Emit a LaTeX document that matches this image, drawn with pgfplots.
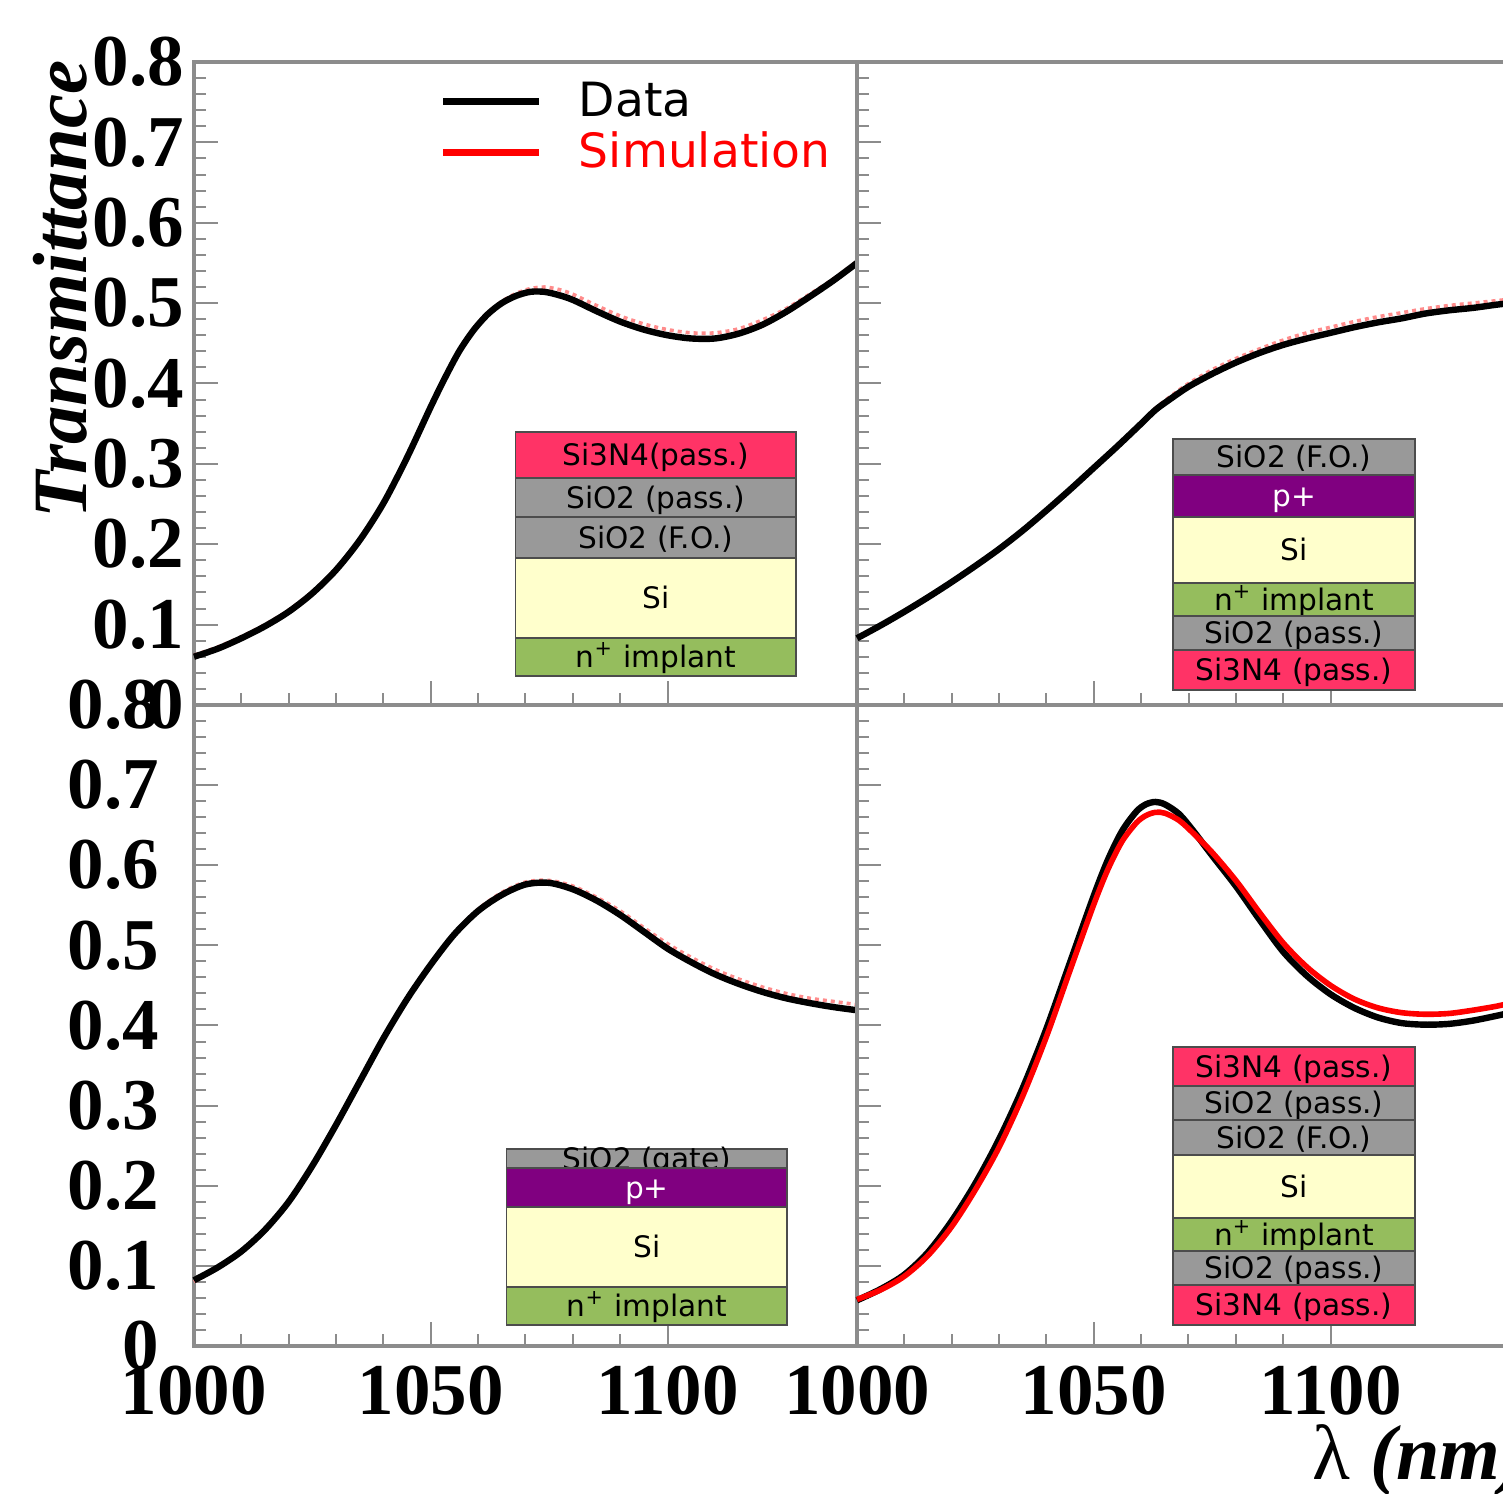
\documentclass[border=0pt]{standalone}
\usepackage{pgfplots}
\pgfplotsset{compat=1.18}
\usepackage{fontspec}
\newfontfamily\timesfam{Liberation Serif}
\newfontfamily\dejavu{DejaVu Sans}
\definecolor{pinkred}{HTML}{FF3366}
\definecolor{oxgray}{HTML}{999999}
\definecolor{siyellow}{HTML}{FFFFCC}
\definecolor{impgreen}{HTML}{95BD5D}
\definecolor{ppurple}{HTML}{800080}
\definecolor{axgray}{HTML}{8C8C8C}
\newcommand{\boxfont}{\dejavu\fontsize{7.4}{8.5}\selectfont}
% layer: ybottom, ytop, ycenter, fill, text, textcolor ; uses \bxa \bxb \bxc
\newcommand{\layer}[6]{%
  \draw[draw=black!70, line width=0.45pt, fill=#4] (axis cs:\bxa,#1) rectangle (axis cs:\bxb,#2);
  \node[anchor=base, inner sep=0pt, text=#6, font=\boxfont, yshift=-2.7pt] at (axis cs:\bxc,#3) {#5};}
\pgfplotsset{panel/.style={
  scale only axis, xmin=1000, ymin=0, ymax=0.8,
  xtick={1000,1050,1100}, ytick={0,0.1,0.2,0.3,0.4,0.5,0.6,0.7,0.8},
  minor x tick num=4, minor y tick num=4,
  tick align=inside, tick pos=left,
  major tick length=6pt, minor tick length=3pt,
  tick style={axgray, line width=0.5pt},
  axis line style={axgray, line width=0.8pt},
  /pgf/number format/assume math mode=true,
  /pgf/number format/1000 sep={},
  ticklabel style={font=\timesfam\bfseries\fontsize{18.25}{20}\selectfont},
  xticklabel style={anchor=north, inner sep=0pt, yshift=-4.75pt},
  yticklabel style={anchor=east, inner sep=0pt},
  yticklabel={\pgfmathprintnumber[fixed,precision=1]{\tick}},
  clip=false,
}}
\begin{document}
\begin{tikzpicture}
\useasboundingbox (0,0) rectangle (375.75pt,373.5pt);
% ---------------- top left
\begin{axis}[panel, at={(48.5pt,197.25pt)}, anchor=south west,
  width=165.75pt, height=160.75pt, xmax=1140,
  xticklabels={}, yticklabel style={xshift=-2.25pt},
  legend style={draw=none, fill=none, at={(0.371,0.970)}, anchor=north west,
    inner sep=0pt, outer sep=0pt, row sep=4.05pt, column sep=9pt,
    font=\dejavu\fontsize{11.8}{13}\selectfont,
    nodes={inner sep=0pt, text height=8.7pt, text depth=0pt}},
  legend cell align=left,
  legend image code/.code={\draw[#1, line width=1.75pt] (0pt,-0.75pt) -- (24pt,-0.75pt);}]
\addplot[red!45, line width=0.9pt, dash pattern=on 1pt off 1pt, smooth, forget plot] coordinates {
(1000,0.062)(1005,0.072)(1010,0.085)(1015,0.100)(1020,0.118)(1025,0.141)(1030,0.170)
(1035,0.207)(1040,0.253)(1045,0.310)(1050,0.373)(1053,0.409)(1056,0.442)(1059,0.468)
(1062,0.488)(1065,0.502)(1068,0.512)(1071,0.518)(1074,0.520)(1077,0.517)(1080,0.511)
(1085,0.497)(1090,0.484)(1095,0.474)(1100,0.467)(1105,0.463)(1110,0.463)(1115,0.468)
(1120,0.479)(1125,0.493)(1130,0.511)(1135,0.530)(1140,0.552)};
\addplot[black, line width=1.6pt, smooth, forget plot] coordinates {
(1000,0.060)(1005,0.070)(1010,0.083)(1015,0.098)(1020,0.116)(1025,0.139)(1030,0.168)
(1035,0.205)(1040,0.251)(1045,0.308)(1050,0.371)(1053,0.407)(1056,0.440)(1059,0.466)
(1062,0.486)(1065,0.500)(1068,0.509)(1071,0.514)(1074,0.514)(1077,0.510)(1080,0.504)
(1085,0.490)(1090,0.477)(1095,0.467)(1100,0.460)(1105,0.456)(1110,0.456)(1115,0.462)
(1120,0.473)(1125,0.489)(1130,0.508)(1135,0.528)(1140,0.550)};
\addlegendimage{black}
\addlegendentry{Data}
\addlegendimage{red}
\addlegendentry{\textcolor{red}{Simulation}}
\def\bxa{1067.9}\def\bxb{1127.2}\def\bxc{1097.55}
\layer{0.2823}{0.3396}{0.311}{pinkred}{Si3N4(pass.)}{black}
\layer{0.2338}{0.2823}{0.258}{oxgray}{SiO2 (pass.)}{black}
\layer{0.1828}{0.2338}{0.2083}{oxgray}{SiO2 (F.O.)}{black}
\layer{0.0833}{0.1828}{0.133}{siyellow}{Si}{black}
\layer{0.0361}{0.0833}{0.0597}{impgreen}{n\textsuperscript{+} implant}{black}
\end{axis}
% ---------------- top right
\begin{axis}[panel, at={(214.25pt,197.25pt)}, anchor=south west,
  width=163.5pt, height=160.75pt, xmax=1138.1,
  xticklabels={}, yticklabels={}]
\addplot[red!45, line width=0.9pt, dash pattern=on 1pt off 1pt, smooth] coordinates {
(1000,0.084)(1005,0.100)(1010,0.117)(1015,0.135)(1020,0.154)(1025,0.174)(1030,0.195)
(1035,0.218)(1040,0.243)(1045,0.269)(1050,0.296)(1055,0.323)(1060,0.351)(1063,0.369)
(1066,0.383)(1070,0.400)(1075,0.417)(1080,0.431)(1085,0.443)(1090,0.454)(1095,0.463)
(1100,0.470)(1105,0.477)(1110,0.483)(1115,0.488)(1120,0.493)(1125,0.497)(1130,0.500)
(1135,0.503)(1138,0.505)};
\addplot[black, line width=1.6pt, smooth] coordinates {
(1000,0.083)(1005,0.099)(1010,0.116)(1015,0.134)(1020,0.153)(1025,0.173)(1030,0.194)
(1035,0.217)(1040,0.242)(1045,0.268)(1050,0.295)(1055,0.322)(1060,0.350)(1063,0.367)
(1066,0.380)(1070,0.396)(1075,0.412)(1080,0.426)(1085,0.438)(1090,0.448)(1095,0.456)
(1100,0.463)(1105,0.470)(1110,0.476)(1115,0.481)(1120,0.487)(1125,0.491)(1130,0.494)
(1135,0.498)(1138,0.500)};
\def\bxa{1066.8}\def\bxb{1117.8}\def\bxc{1092.3}
\layer{0.2861}{0.3308}{0.3085}{oxgray}{SiO2 (F.O.)}{black}
\layer{0.2338}{0.2861}{0.26}{ppurple}{p+}{white}
\layer{0.1517}{0.2338}{0.1928}{siyellow}{Si}{black}
\layer{0.1107}{0.1517}{0.1312}{impgreen}{n\textsuperscript{+} implant}{black}
\layer{0.0684}{0.1107}{0.0896}{oxgray}{SiO2 (pass.)}{black}
\layer{0.0187}{0.0684}{0.0436}{pinkred}{Si3N4 (pass.)}{black}
\end{axis}
% ---------------- bottom left
\begin{axis}[panel, at={(48.5pt,37pt)}, anchor=south west,
  width=165.75pt, height=160.25pt, xmax=1140,
  yticklabel style={xshift=-8.5pt}]
\addplot[red!45, line width=0.9pt, dash pattern=on 1pt off 1pt, smooth] coordinates {
(1000,0.080)(1005,0.097)(1010,0.117)(1015,0.144)(1020,0.179)(1025,0.224)(1030,0.275)
(1035,0.330)(1040,0.384)(1045,0.434)(1050,0.477)(1055,0.515)(1060,0.545)(1065,0.566)
(1070,0.579)(1075,0.581)(1080,0.574)(1085,0.560)(1090,0.543)(1095,0.522)(1100,0.502)
(1105,0.485)(1110,0.470)(1115,0.458)(1120,0.448)(1125,0.440)(1130,0.434)(1135,0.430)(1140,0.426)};
\addplot[black, line width=1.6pt, smooth] coordinates {
(1000,0.082)(1005,0.098)(1010,0.118)(1015,0.145)(1020,0.180)(1025,0.225)(1030,0.276)
(1035,0.330)(1040,0.384)(1045,0.433)(1050,0.476)(1055,0.514)(1060,0.543)(1065,0.563)
(1070,0.576)(1075,0.578)(1080,0.570)(1085,0.556)(1090,0.538)(1095,0.517)(1100,0.496)
(1105,0.479)(1110,0.464)(1115,0.452)(1120,0.442)(1125,0.434)(1130,0.428)(1135,0.423)(1140,0.419)};
\def\bxa{1066.0}\def\bxb{1125.3}\def\bxc{1095.65}
\layer{0.2222}{0.2459}{0.234}{oxgray}{SiO2 (gate)}{black}
\layer{0.1735}{0.2222}{0.198}{ppurple}{p+}{white}
\layer{0.0737}{0.1735}{0.1236}{siyellow}{Si}{black}
\layer{0.0262}{0.0737}{0.05}{impgreen}{n\textsuperscript{+} implant}{black}
\end{axis}
% ---------------- bottom right
\begin{axis}[panel, at={(214.25pt,37pt)}, anchor=south west,
  width=163.5pt, height=160.25pt, xmax=1138.1,
  yticklabels={}]
\addplot[black, line width=1.6pt, smooth] coordinates {
(1000,0.057)(1005,0.071)(1010,0.089)(1015,0.117)(1020,0.156)(1025,0.203)(1030,0.258)
(1035,0.322)(1040,0.396)(1045,0.479)(1050,0.562)(1053,0.607)(1056,0.643)(1059,0.667)
(1061,0.676)(1063,0.679)(1065,0.676)(1068,0.664)(1071,0.643)(1075,0.612)(1080,0.574)
(1085,0.532)(1090,0.492)(1095,0.462)(1100,0.439)(1105,0.422)(1110,0.410)(1115,0.403)
(1120,0.401)(1125,0.402)(1130,0.406)(1135,0.412)(1138,0.416)};
\addplot[red, line width=1.4pt, smooth] coordinates {
(1000,0.058)(1005,0.070)(1010,0.087)(1015,0.113)(1020,0.149)(1025,0.195)(1030,0.248)
(1035,0.312)(1040,0.386)(1045,0.469)(1050,0.551)(1053,0.595)(1056,0.630)(1059,0.653)
(1061,0.662)(1063,0.666)(1065,0.665)(1068,0.656)(1071,0.640)(1075,0.616)(1080,0.581)
(1085,0.541)(1090,0.503)(1095,0.473)(1100,0.450)(1105,0.433)(1110,0.422)(1115,0.416)
(1120,0.414)(1125,0.415)(1130,0.419)(1135,0.424)(1138,0.428)};
\def\bxa{1066.8}\def\bxb{1117.8}\def\bxc{1092.3}
\layer{0.3246}{0.3733}{0.349}{pinkred}{Si3N4 (pass.)}{black}
\layer{0.2821}{0.3246}{0.3034}{oxgray}{SiO2 (pass.)}{black}
\layer{0.2385}{0.2821}{0.2603}{oxgray}{SiO2 (F.O.)}{black}
\layer{0.1598}{0.2385}{0.1992}{siyellow}{Si}{black}
\layer{0.1186}{0.1598}{0.1392}{impgreen}{n\textsuperscript{+} implant}{black}
\layer{0.0762}{0.1186}{0.0974}{oxgray}{SiO2 (pass.)}{black}
\layer{0.0262}{0.0762}{0.0512}{pinkred}{Si3N4 (pass.)}{black}
\end{axis}
% titles
\node[rotate=90, anchor=base east, inner sep=0pt, font=\timesfam\bfseries\itshape\fontsize{19.2}{21}\selectfont] at (21.5pt,358.5pt) {Transmittance};
\node[anchor=base west, inner sep=0pt, font=\timesfam\bfseries\itshape\fontsize{19.5}{21}\selectfont] at (328pt,3.5pt) {{\upshape\mdseries λ} (nm)};
\end{tikzpicture}
\end{document}
